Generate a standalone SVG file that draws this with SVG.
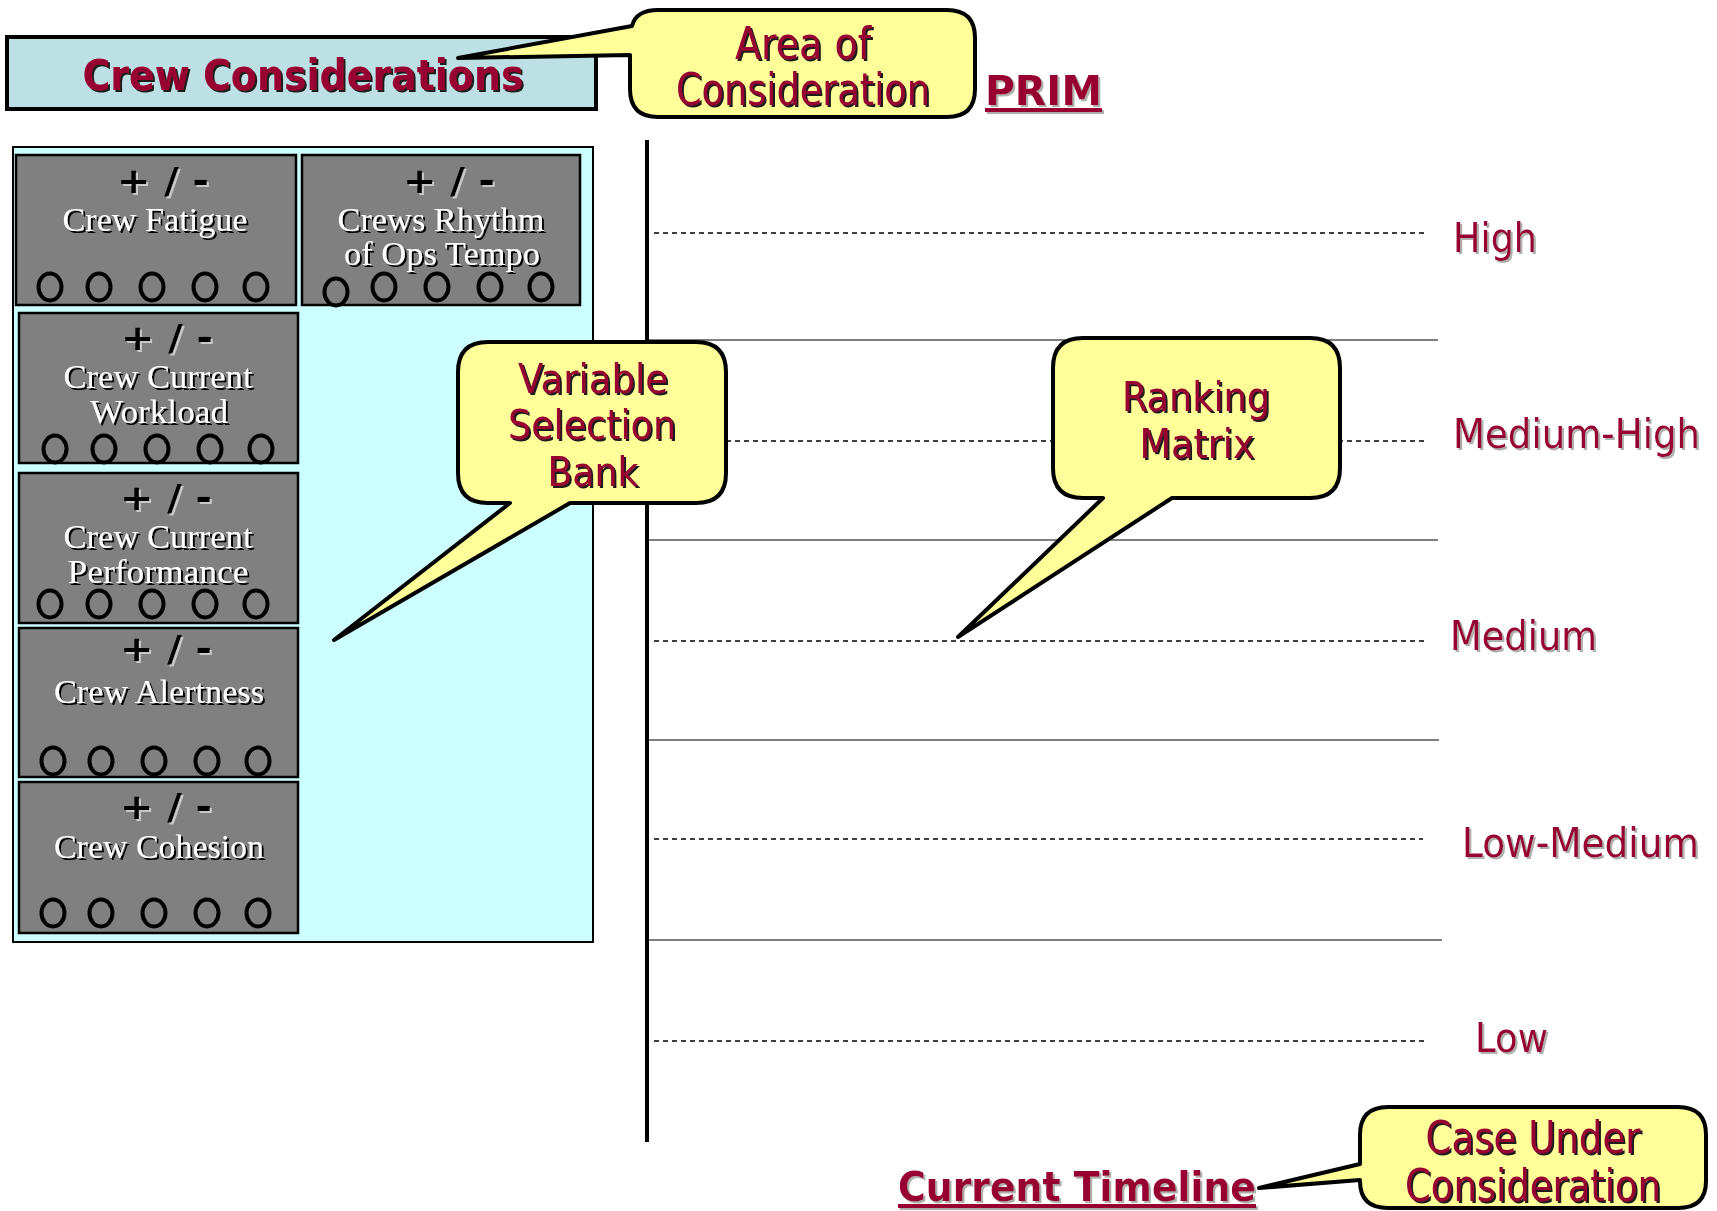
<svg xmlns="http://www.w3.org/2000/svg" width="1717" height="1211" viewBox="0 0 1717 1211">
<defs>
<filter id="shDark" x="-5%" y="-5%" width="110%" height="120%"><feDropShadow dx="2" dy="2" stdDeviation="0" flood-color="#1a1a1a"/></filter>
<filter id="shGray" x="-5%" y="-5%" width="110%" height="120%"><feDropShadow dx="2" dy="2" stdDeviation="0.4" flood-color="#b0b0b0"/></filter>
<filter id="shLight" x="-5%" y="-5%" width="110%" height="120%"><feDropShadow dx="2" dy="2" stdDeviation="0" flood-color="#c8c8c8"/></filter>
<filter id="shBlack" x="-5%" y="-5%" width="110%" height="120%"><feDropShadow dx="2" dy="2" stdDeviation="0" flood-color="#000"/></filter>
</defs>
<style>
.callout{fill:#ffff99;stroke:#000;stroke-width:4;stroke-linejoin:round}
.ctext{font-family:"DejaVu Sans","Liberation Sans",sans-serif;font-size:40px;fill:#990033;text-anchor:middle;filter:url(#shDark)}
.big{font-size:44px}
.level{font-family:"DejaVu Sans","Liberation Sans",sans-serif;font-size:40px;fill:#990033;filter:url(#shGray)}
.boldlink{font-family:"DejaVu Sans","Liberation Sans",sans-serif;font-size:41px;font-weight:bold;fill:#990033;text-decoration:underline;filter:url(#shGray)}
.card{fill:#808080;stroke:#000;stroke-width:2.5}
.pm{font-family:"DejaVu Sans","Liberation Sans",sans-serif;font-size:35px;font-weight:bold;fill:#000;text-anchor:middle;filter:url(#shLight)}
.lbl{font-family:"Liberation Serif","DejaVu Serif",serif;font-size:34px;fill:#fff;text-anchor:middle;filter:url(#shBlack)}
.dot{fill:none;stroke:#000;stroke-width:4}
.solid{stroke:#555;stroke-width:1.5}
.dash{stroke:#000;stroke-width:1.3;stroke-dasharray:5 4}
</style>
<rect width="1717" height="1211" fill="#fff"/>

<g id="header">
<rect x="9" y="39" width="589" height="72" fill="#c8c8c8"/>
<rect x="7" y="37" width="589" height="72" fill="#bce0e4" stroke="#000" stroke-width="4"/>
<text x="303" y="90" font-family="DejaVu Sans, Liberation Sans, sans-serif" font-size="43" font-weight="bold" fill="#990033" text-anchor="middle" textLength="441" lengthAdjust="spacingAndGlyphs" filter="url(#shDark)">Crew Considerations</text>
</g>

<g id="grid">
<line class="solid" x1="649" y1="340" x2="1438" y2="340"/>
<line class="solid" x1="649" y1="540" x2="1438" y2="540"/>
<line class="solid" x1="649" y1="740" x2="1439" y2="740"/>
<line class="solid" x1="649" y1="940" x2="1442" y2="940"/>
<line class="dash" x1="654" y1="233" x2="1425" y2="233"/>
<line class="dash" x1="654" y1="441" x2="1425" y2="441"/>
<line class="dash" x1="654" y1="641" x2="1425" y2="641"/>
<line class="dash" x1="654" y1="839" x2="1423" y2="839"/>
<line class="dash" x1="654" y1="1041" x2="1425" y2="1041"/>
<line x1="647" y1="140" x2="647" y2="1142" stroke="#000" stroke-width="4"/>
</g>

<g id="levels">
<text class="level" x="1453" y="252" textLength="84" lengthAdjust="spacingAndGlyphs">High</text>
<text class="level" x="1453" y="448" textLength="247" lengthAdjust="spacingAndGlyphs">Medium-High</text>
<text class="level" x="1450" y="650" textLength="147" lengthAdjust="spacingAndGlyphs">Medium</text>
<text class="level" x="1462" y="857" textLength="237" lengthAdjust="spacingAndGlyphs">Low-Medium</text>
<text class="level" x="1475" y="1052" textLength="73" lengthAdjust="spacingAndGlyphs">Low</text>
</g>

<g id="bank">
<rect x="13" y="147" width="580" height="795" fill="#ccffff" stroke="#000" stroke-width="2"/>
</g>

<g id="card-fatigue">
<rect class="card" x="16" y="155" width="280" height="150"/>
<text class="pm" x="163" y="193" textLength="92" lengthAdjust="spacingAndGlyphs">+ / -</text>
<text class="lbl" x="155" y="231" textLength="185" lengthAdjust="spacingAndGlyphs">Crew Fatigue</text>
<ellipse class="dot" cx="50" cy="287" rx="11.5" ry="13.5"/><ellipse class="dot" cx="99" cy="287" rx="11.5" ry="13.5"/><ellipse class="dot" cx="152" cy="287" rx="11.5" ry="13.5"/><ellipse class="dot" cx="205" cy="287" rx="11.5" ry="13.5"/><ellipse class="dot" cx="256" cy="287" rx="11.5" ry="13.5"/>
</g>

<g id="card-rhythm">
<rect class="card" x="302" y="155" width="278" height="150"/>
<text class="pm" x="449" y="193" textLength="92" lengthAdjust="spacingAndGlyphs">+ / -</text>
<text class="lbl" x="441" y="231" textLength="207" lengthAdjust="spacingAndGlyphs">Crews Rhythm</text>
<text class="lbl" x="442" y="265" textLength="196" lengthAdjust="spacingAndGlyphs">of Ops Tempo</text>
<ellipse class="dot" cx="336" cy="292" rx="11.5" ry="13.5"/><ellipse class="dot" cx="384" cy="287" rx="11.5" ry="13.5"/><ellipse class="dot" cx="437" cy="287" rx="11.5" ry="13.5"/><ellipse class="dot" cx="490" cy="287" rx="11.5" ry="13.5"/><ellipse class="dot" cx="541" cy="287" rx="11.5" ry="13.5"/>
</g>

<g id="card-workload">
<rect class="card" x="19" y="313" width="279" height="150"/>
<text class="pm" x="167" y="350" textLength="92" lengthAdjust="spacingAndGlyphs">+ / -</text>
<text class="lbl" x="158" y="388" textLength="189" lengthAdjust="spacingAndGlyphs">Crew Current</text>
<text class="lbl" x="159" y="423" textLength="138" lengthAdjust="spacingAndGlyphs">Workload</text>
<ellipse class="dot" cx="55" cy="449" rx="11.5" ry="13.5"/><ellipse class="dot" cx="104" cy="449" rx="11.5" ry="13.5"/><ellipse class="dot" cx="157" cy="449" rx="11.5" ry="13.5"/><ellipse class="dot" cx="210" cy="449" rx="11.5" ry="13.5"/><ellipse class="dot" cx="261" cy="449" rx="11.5" ry="13.5"/>
</g>

<g id="card-performance">
<rect class="card" x="19" y="473" width="279" height="150"/>
<text class="pm" x="166" y="510" textLength="92" lengthAdjust="spacingAndGlyphs">+ / -</text>
<text class="lbl" x="158" y="548" textLength="189" lengthAdjust="spacingAndGlyphs">Crew Current</text>
<text class="lbl" x="158" y="583" textLength="181" lengthAdjust="spacingAndGlyphs">Performance</text>
<ellipse class="dot" cx="50" cy="604" rx="11.5" ry="13.5"/><ellipse class="dot" cx="99" cy="604" rx="11.5" ry="13.5"/><ellipse class="dot" cx="152" cy="604" rx="11.5" ry="13.5"/><ellipse class="dot" cx="205" cy="604" rx="11.5" ry="13.5"/><ellipse class="dot" cx="256" cy="604" rx="11.5" ry="13.5"/>
</g>

<g id="card-alertness">
<rect class="card" x="19" y="628" width="279" height="149"/>
<text class="pm" x="166" y="661" textLength="92" lengthAdjust="spacingAndGlyphs">+ / -</text>
<text class="lbl" x="159" y="703" textLength="210" lengthAdjust="spacingAndGlyphs">Crew Alertness</text>
<ellipse class="dot" cx="53" cy="761" rx="11.5" ry="13.5"/><ellipse class="dot" cx="101" cy="761" rx="11.5" ry="13.5"/><ellipse class="dot" cx="154" cy="761" rx="11.5" ry="13.5"/><ellipse class="dot" cx="207" cy="761" rx="11.5" ry="13.5"/><ellipse class="dot" cx="258" cy="761" rx="11.5" ry="13.5"/>
</g>

<g id="card-cohesion">
<rect class="card" x="19" y="782" width="279" height="151"/>
<text class="pm" x="166" y="819" textLength="92" lengthAdjust="spacingAndGlyphs">+ / -</text>
<text class="lbl" x="159" y="858" textLength="210" lengthAdjust="spacingAndGlyphs">Crew Cohesion</text>
<ellipse class="dot" cx="53" cy="913" rx="11.5" ry="13.5"/><ellipse class="dot" cx="101" cy="913" rx="11.5" ry="13.5"/><ellipse class="dot" cx="154" cy="913" rx="11.5" ry="13.5"/><ellipse class="dot" cx="207" cy="913" rx="11.5" ry="13.5"/><ellipse class="dot" cx="258" cy="913" rx="11.5" ry="13.5"/>
</g>

<g id="callout-area">
<path class="callout" d="M 658,10 H 947 Q 975,10 975,38 V 89 Q 975,117 947,117 H 658 Q 630,117 630,89 V 55 L 458,58 L 632,26 Q 636,10 658,10 Z"/>
<text class="ctext big" x="803" y="59" textLength="136" lengthAdjust="spacingAndGlyphs">Area of</text>
<text class="ctext big" x="803" y="105" textLength="254" lengthAdjust="spacingAndGlyphs">Consideration</text>
</g>

<g id="prim">
<text class="boldlink" x="985" y="105" textLength="117" lengthAdjust="spacingAndGlyphs">PRIM</text>
</g>

<g id="callout-bank">
<path class="callout" d="M 488,342 H 696 Q 726,342 726,372 V 473 Q 726,503 696,503 H 570 L 334,640 L 510,503 H 488 Q 458,503 458,473 V 372 Q 458,342 488,342 Z"/>
<text class="ctext" x="593" y="393" textLength="150" lengthAdjust="spacingAndGlyphs" font-size="42">Variable</text>
<text class="ctext" x="592" y="439" textLength="168" lengthAdjust="spacingAndGlyphs" font-size="42">Selection</text>
<text class="ctext" x="593" y="486" textLength="91" lengthAdjust="spacingAndGlyphs" font-size="42">Bank</text>
</g>

<g id="callout-ranking">
<path class="callout" d="M 1083,338 H 1310 Q 1340,338 1340,368 V 468 Q 1340,498 1310,498 H 1172 L 958,637 L 1103,498 H 1083 Q 1053,498 1053,468 V 368 Q 1053,338 1083,338 Z"/>
<text class="ctext" x="1196" y="411" textLength="148" lengthAdjust="spacingAndGlyphs" font-size="41">Ranking</text>
<text class="ctext" x="1197" y="458" textLength="115" lengthAdjust="spacingAndGlyphs" font-size="41">Matrix</text>
</g>

<g id="timeline">
<text class="boldlink" x="898" y="1201" textLength="358" lengthAdjust="spacingAndGlyphs">Current Timeline</text>
</g>

<g id="callout-case">
<path class="callout" d="M 1388,1107 H 1678 Q 1706,1107 1706,1135 V 1181 Q 1706,1208 1678,1208 H 1388 Q 1360,1208 1360,1181 V 1180 L 1259,1188 L 1360,1164 V 1135 Q 1360,1107 1388,1107 Z"/>
<text class="ctext big" x="1533" y="1153" textLength="215" lengthAdjust="spacingAndGlyphs">Case Under</text>
<text class="ctext big" x="1533" y="1201" textLength="256" lengthAdjust="spacingAndGlyphs">Consideration</text>
</g>
</svg>
